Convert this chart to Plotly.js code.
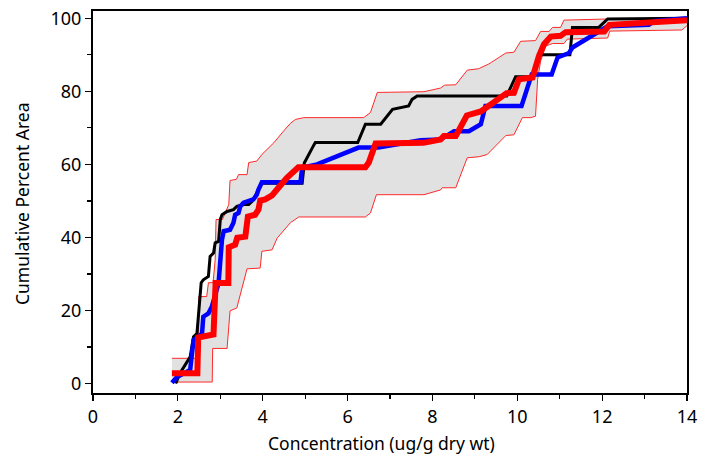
<!DOCTYPE html>
<html>
<head>
<meta charset="utf-8">
<script src="https://cdn.plot.ly/plotly-3.0.1.min.js"></script>
<style>html,body{margin:0;padding:0;background:#fff;}#chart{width:708px;height:455px;}</style>
</head>
<body>
<div id="chart"></div>
<script>
// Black step curve
const blackX = [1.95, 2.01, 2.05, 2.29, 2.37, 2.45, 2.49, 2.53, 2.55, 2.60, 2.72, 2.76, 2.84, 2.88, 2.96, 3.00, 3.04, 3.16, 3.31, 3.39, 3.55, 3.67, 3.75, 3.82, 3.90, 3.98, 4.93, 4.98, 5.20, 5.24, 6.24, 6.42, 6.78, 7.06, 7.44, 7.52, 7.64, 9.75, 9.96, 10.36, 10.51, 11.24, 11.30, 11.92, 12.13, 13.15, 13.23, 14.0];
const blackY = [0, 1.5, 2.8, 7.3, 12.8, 13.7, 20.1, 24.7, 27.6, 28.4, 29.3, 34.8, 35.7, 38.5, 38.9, 44.9, 46.2, 47.1, 47.6, 48.5, 49.0, 49.0, 49.9, 51.3, 53.1, 54.8, 54.8, 60.4, 65.2, 66.0, 66.0, 71.0, 71.0, 75.1, 76.0, 77.8, 78.7, 78.7, 84.0, 84.0, 90.0, 90.0, 97.5, 97.5, 99.8, 99.8, 100, 100];

// Blue step curve
const blueX = [1.86, 1.98, 2.29, 2.33, 2.37, 2.49, 2.57, 2.60, 2.72, 2.80, 2.88, 2.96, 3.04, 3.08, 3.23, 3.31, 3.35, 3.43, 3.47, 3.55, 3.78, 3.86, 3.90, 3.98, 4.89, 4.93, 5.28, 6.26, 6.73, 7.72, 8.19, 8.51, 8.86, 9.14, 9.25, 10.10, 10.34, 10.81, 10.95, 11.07, 11.22, 11.30, 12.13, 13.10, 13.24, 14.0];
const blueY = [0.2, 1.8, 3.7, 7.8, 11.9, 12.8, 13.7, 18.3, 19.2, 21.0, 23.8, 27.5, 39.4, 41.7, 42.1, 44.0, 46.2, 46.7, 48.5, 49.5, 50.4, 51.7, 53.1, 55.1, 55.1, 59.1, 60.0, 64.6, 64.6, 66.6, 66.8, 69.1, 69.1, 71.0, 76.0, 76.0, 84.6, 84.6, 89.3, 89.7, 90.5, 92.0, 97.8, 98.2, 99.3, 100];

// Red (thick) step curve
const redX = [1.86, 2.46, 2.48, 2.67, 2.84, 2.89, 3.19, 3.20, 3.35, 3.40, 3.59, 3.65, 3.82, 3.90, 3.94, 4.06, 4.22, 4.37, 4.57, 4.84, 6.42, 6.50, 6.66, 7.79, 8.19, 8.27, 8.55, 8.81, 9.07, 9.14, 9.75, 9.92, 10.04, 10.36, 10.51, 10.63, 10.79, 11.02, 11.14, 12.05, 12.17, 13.15, 14.0];
const redY = [2.8, 2.8, 12.6, 12.9, 13.4, 27.5, 27.5, 37.3, 38.0, 39.9, 40.2, 45.7, 46.2, 47.6, 50.1, 50.4, 51.5, 53.6, 56.3, 59.2, 59.2, 60.5, 65.7, 65.9, 66.8, 67.8, 67.8, 73.4, 74.0, 74.5, 79.5, 79.6, 83.3, 83.8, 89.7, 92.9, 95.0, 95.2, 96.2, 96.4, 98.2, 98.9, 99.5];

// Upper bound of envelope
const upperX = [1.86, 2.49, 2.49, 2.68, 2.72, 2.83, 2.88, 2.90, 3.05, 3.20, 3.23, 3.38, 3.43, 3.63, 3.67, 3.86, 3.98, 4.18, 4.26, 4.49, 4.65, 4.77, 4.97, 6.38, 6.54, 6.70, 7.80, 8.19, 8.29, 8.55, 8.82, 9.09, 9.33, 9.73, 9.92, 10.08, 10.43, 10.55, 10.75, 10.83, 11.02, 11.10, 12.09, 14.0];
const upperY = [6.9, 6.9, 23.8, 23.8, 27.6, 27.6, 33.9, 44.9, 44.9, 49.0, 55.6, 55.9, 57.2, 57.2, 60.5, 60.9, 62.7, 65.0, 65.9, 69.1, 71.2, 72.3, 72.8, 72.8, 74.2, 79.7, 79.9, 80.9, 81.7, 81.8, 85.8, 86.2, 87.5, 90.5, 90.7, 93.7, 93.9, 96.4, 96.4, 97.5, 97.5, 99.5, 99.8, 99.8];

// Lower bound of envelope
const lowerX = [1.86, 2.81, 2.82, 3.16, 3.23, 3.39, 3.63, 3.94, 3.98, 4.22, 4.34, 4.65, 4.85, 6.42, 6.54, 6.68, 7.80, 8.19, 8.23, 8.55, 8.82, 9.10, 9.29, 9.73, 9.92, 10.12, 10.32, 10.43, 10.48, 10.55, 10.67, 10.83, 11.10, 11.18, 12.13, 12.18, 13.88, 14.0];
const lowerY = [0.4, 0.4, 9.6, 9.6, 19.9, 20.7, 31.4, 31.6, 36.2, 36.6, 39.8, 44.0, 45.6, 45.6, 46.7, 51.7, 51.7, 53.0, 53.6, 53.6, 61.8, 62.1, 62.7, 67.9, 68.1, 72.8, 72.8, 73.2, 83.3, 88.3, 92.4, 93.1, 93.1, 94.3, 94.6, 96.5, 96.8, 98.0];

const xTitle = 'Concentration (ug/g dry wt)';
const yTitle = 'Cumulative Percent Area';

const bandX = upperX.concat(lowerX.slice().reverse());
const bandY = upperY.concat(lowerY.slice().reverse());

const traces = [
  {x: bandX, y: bandY, type: 'scatter', mode: 'lines', fill: 'toself', fillcolor: '#e1e1e1', line: {width: 0}, hoverinfo: 'skip', showlegend: false},
  {x: upperX, y: upperY, type: 'scatter', mode: 'lines', line: {color: '#ff2a2a', width: 1}, showlegend: false},
  {x: lowerX, y: lowerY, type: 'scatter', mode: 'lines', line: {color: '#ff2a2a', width: 1}, showlegend: false},
  {x: blackX, y: blackY, type: 'scatter', mode: 'lines', line: {color: '#000000', width: 3}, showlegend: false},
  {x: blueX, y: blueY, type: 'scatter', mode: 'lines', line: {color: '#0000ff', width: 4.5}, showlegend: false},
  {x: redX, y: redY, type: 'scatter', mode: 'lines', line: {color: '#ff0000', width: 6}, showlegend: false}
];

const fontFam = '"Noto Sans", "DejaVu Sans", sans-serif';
const layout = {
  width: 708, height: 455,
  margin: {l: 93, r: 21, t: 11, b: 62},
  paper_bgcolor: '#ffffff', plot_bgcolor: '#ffffff',
  font: {family: fontFam, size: 17, color: '#000'},
  showlegend: false,
  xaxis: {
    range: [0, 14], tickvals: [0, 2, 4, 6, 8, 10, 12, 14],
    ticks: 'outside', ticklen: 6, tickwidth: 1.2, tickcolor: '#000',
    minor: {ticks: 'outside', tickvals: [1, 3, 5, 7, 9, 11, 13], ticklen: 4, tickcolor: '#000', showgrid: false},
    showline: true, linecolor: '#000', linewidth: 2, mirror: true,
    showgrid: false, zeroline: false,
    tickfont: {size: 18, family: fontFam}
  },
  yaxis: {
    range: [-2.6, 102.0], tickvals: [0, 20, 40, 60, 80, 100],
    ticks: 'outside', ticklen: 6, tickwidth: 1.2, tickcolor: '#000',
    minor: {ticks: 'outside', tickvals: [10, 30, 50, 70, 90], ticklen: 4, tickcolor: '#000', showgrid: false},
    showline: true, linecolor: '#000', linewidth: 2, mirror: true,
    showgrid: false, zeroline: false,
    tickfont: {size: 18, family: fontFam}
  },
  annotations: [
    {text: xTitle, xref: 'paper', yref: 'paper', x: 0.4857, y: -0.094, xanchor: 'center', yanchor: 'top', showarrow: false,
     font: {size: 17.5, family: fontFam, color: '#000'}},
    {text: yTitle, xref: 'paper', yref: 'paper', x: -0.1197, y: 0.497, xanchor: 'center', yanchor: 'middle', textangle: -90, showarrow: false,
     font: {size: 17.5, family: fontFam, color: '#000'}}
  ]
};

Plotly.newPlot('chart', traces, layout, {displayModeBar: false, staticPlot: true});
</script>
</body>
</html>
